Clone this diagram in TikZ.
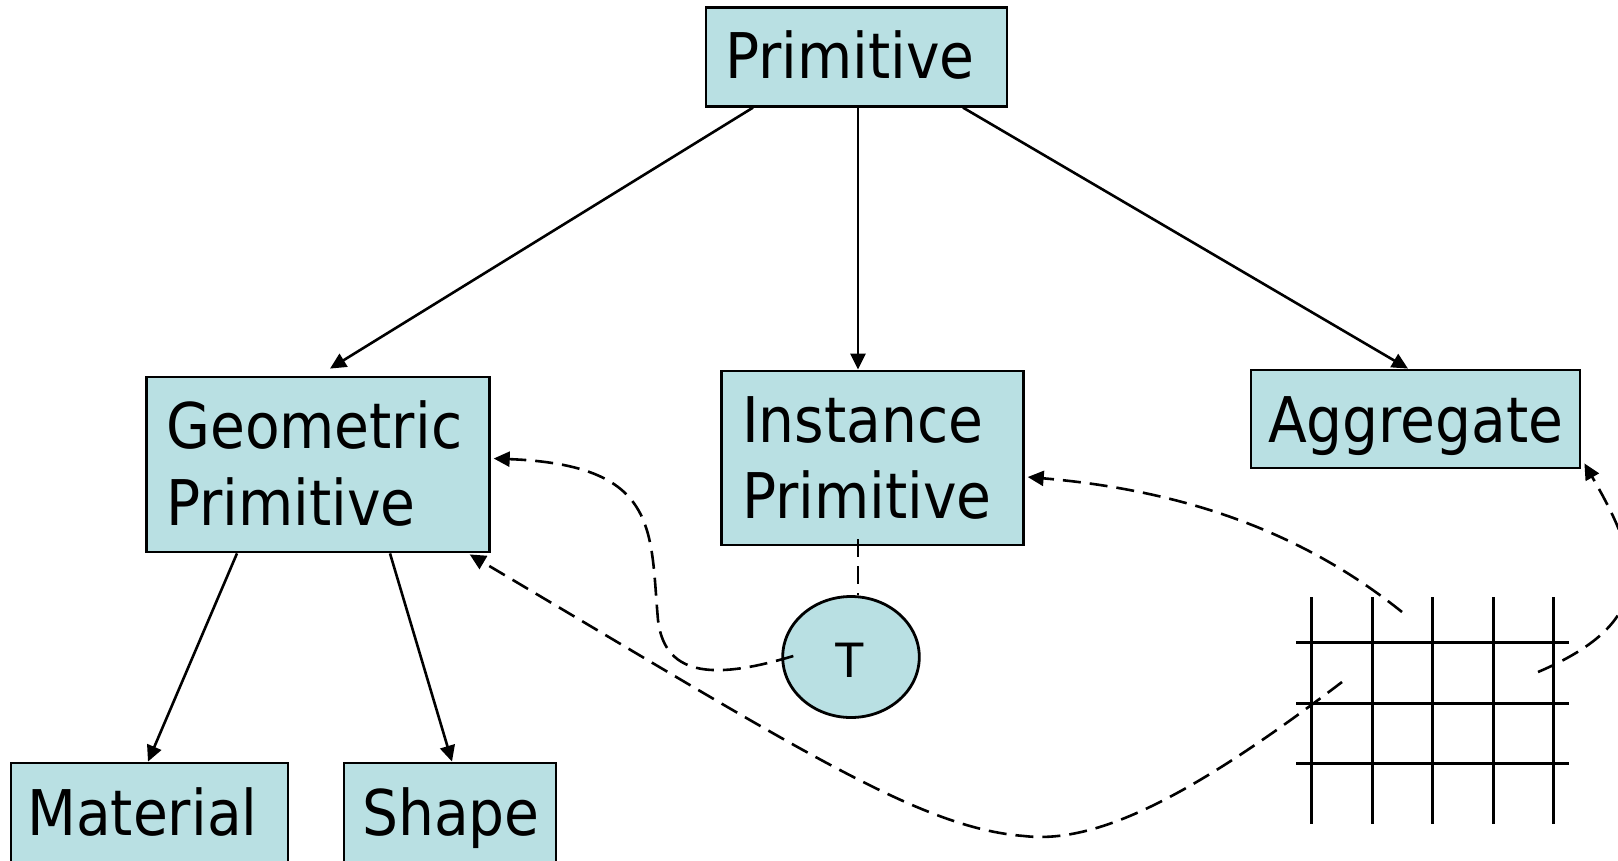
\documentclass[tikz,border=0pt]{standalone}
\usepackage{fontspec}
\setmainfont{DejaVu Sans Condensed}
\newfontfamily\tfont{Liberation Sans}
\usetikzlibrary{arrows.meta,shapes.geometric}
\definecolor{boxfill}{HTML}{B9E0E3}
\begin{document}
\begin{tikzpicture}[x=1pt,y=-1pt,
  box/.style={draw=black, line width=2.8pt, fill=boxfill, inner sep=0pt, rectangle},
  lbl/.style={font=\fontsize{63}{75}\selectfont, inner sep=0pt, anchor=base west},
  conn/.style={line width=2.6pt, -{Triangle[length=16pt,width=15pt]}},
  dconn/.style={conn, dash pattern=on 18pt off 9pt},
  gridln/.style={line width=3pt}]
\useasboundingbox (0,0) rectangle (1618,860);
\clip (0,0) rectangle (1618,860);
% boxes
\node[box, minimum width=301pt, minimum height=99pt] (prim) at (856.5,56.7) {};
\node[box, minimum width=342.6pt, minimum height=175pt] (geo) at (318,464.5) {};
\node[box, minimum width=301.6pt, minimum height=174pt] (inst) at (872.5,458) {};
\node[box, minimum width=329pt, minimum height=98pt] (agg) at (1415.5,419) {};
\node[box, minimum width=277pt, minimum height=136pt] (mat) at (149.5,831) {};
\node[box, minimum width=212pt, minimum height=136pt] (shp) at (450,831) {};
\node[box, ellipse, minimum width=136.6pt, minimum height=121pt] (tee) at (851,657) {};
% labels
\node[lbl] (tprim) at (725,78) {Primitive};
\node[lbl] (tgeo1) at (166,448) {Geometric};
\node[lbl] (tgeo2) at (166,525) {Primitive};
\node[lbl] (tinst1) at (742,442) {Instance};
\node[lbl] (tinst2) at (742,518) {Primitive};
\node[lbl] (tagg) at (1268,442) {Aggregate};
\node[lbl] (tmat) at (27,835) {Material};
\node[lbl] (tshp) at (362,835) {Shape};
\node[font=\tfont\fontsize{50}{60}\selectfont, inner sep=0pt, anchor=base] (tt) at (850,677) {T};
% solid connectors
\draw[conn] ([xshift=-103.5pt]prim.south) -- ([xshift=12pt,yshift=7pt]geo.north);
\draw[conn] ([xshift=1.5pt]prim.south) -- ([xshift=-14.5pt]inst.north);
\draw[conn] ([xshift=106.5pt]prim.south) -- ([xshift=-7.5pt]agg.north);
\draw[conn] ([xshift=-81pt]geo.south) -- ([xshift=-1.5pt]mat.north);
\draw[conn] ([xshift=72pt]geo.south) -- ([xshift=2pt]shp.north);
% grid
\foreach \gx in {1311,1372,1432,1493,1553} \draw[gridln] (\gx,597) -- (\gx,824);
\foreach \gy in {642,703,763} \draw[gridln] (1296,\gy) -- (1569,\gy);
\coordinate (g1) at (1402,612);
\coordinate (g2) at (1538,672);
\coordinate (g3) at (1342,682);
% dashed connectors
\draw[line width=2.6pt, dash pattern=on 18pt off 9pt] ([xshift=-14.5pt,yshift=7pt]inst.south) -- ([xshift=7pt]tee.north);
\draw[dconn] ([xshift=12pt,yshift=1pt]tee.west) .. controls (720,678) and (665,680) .. (658,620)
   .. controls (650,530) and (660,465) .. ([xshift=3pt,yshift=6pt]geo.east);
\draw[dconn] (g1) .. controls (1300,530) and (1180,490) .. ([xshift=3pt,yshift=-19pt]inst.east);
\draw[dconn] (g2) .. controls (1660,620) and (1640,560) .. ([xshift=3pt,yshift=6pt]agg.south east);
\draw[dconn] (g3) .. controls (1200,790) and (1100,845) .. (1024,836)
   .. controls (920,828) and (800,750) .. ([xshift=-21pt,yshift=-1pt]geo.south east);
\end{tikzpicture}
\end{document}
